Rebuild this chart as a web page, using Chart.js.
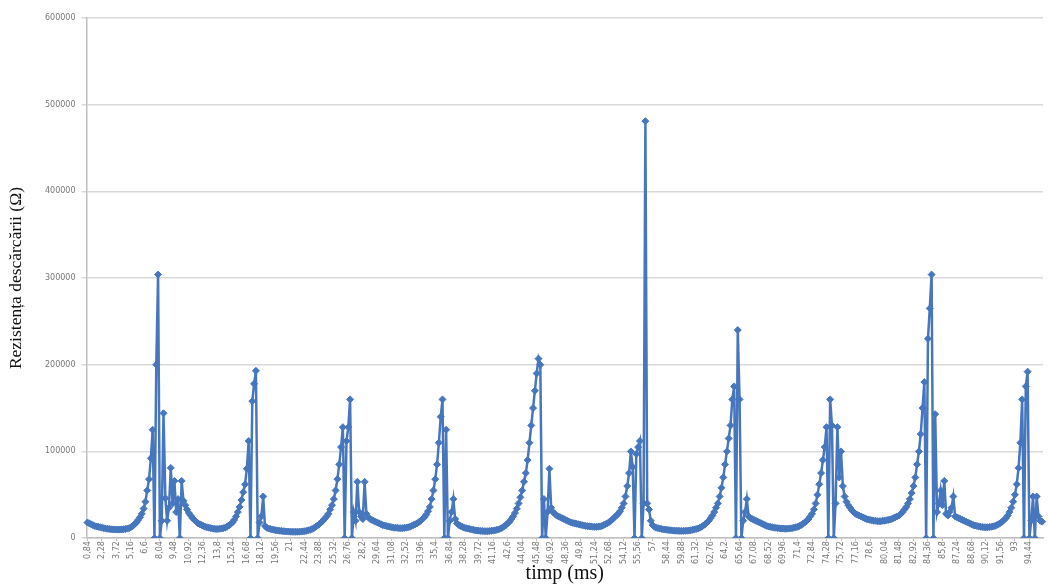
<!DOCTYPE html>
<html>
<head>
<meta charset="utf-8">
<script src="https://cdn.jsdelivr.net/npm/chart.js@4"></script>
<style>
  html, body { margin: 0; padding: 0; background: #fff; }
  #wrap { width: 1048px; height: 584px; position: relative; }
</style>
</head>
<body>
<div id="wrap"><canvas id="chart"></canvas></div>
<script>
// x tick labels (ms), one every 8 samples
const timeTicks = [
  '0,84', '2,28', '3,72', '5,16', '6,6', '8,04', '9,48', '10,92', '12,36', '13,8',
  '15,24', '16,68', '18,12', '19,56', '21', '22,44', '23,88', '25,32', '26,76', '28,2',
  '29,64', '31,08', '32,52', '33,96', '35,4', '36,84', '38,28', '39,72', '41,16', '42,6',
  '44,04', '45,48', '46,92', '48,36', '49,8', '51,24', '52,68', '54,12', '55,56', '57',
  '58,44', '59,88', '61,32', '62,76', '64,2', '65,64', '67,08', '68,52', '69,96', '71,4',
  '72,84', '74,28', '75,72', '77,16', '78,6', '80,04', '81,48', '82,92', '84,36', '85,8',
  '87,24', '88,68', '90,12', '91,56', '93', '94,44'
];

// discharge resistance (ohm), one value per sample
const resistance = [
  18000, 17000, 16000, 15000, 14000, 13500, 13000, 12500, 12000, 11500,
  11000, 10800, 10500, 10200, 10000, 10000, 9800, 9800, 9800, 10000,
  10200, 10500, 11000, 11500, 12500, 14000, 16000, 18000, 21000, 24000,
  28000, 34000, 42000, 55000, 68000, 92000, 125000, 0, 200000, 304000,
  0, 20000, 144000, 46000, 20000, 35000, 81000, 40000, 66000, 30000,
  45000, 0, 66000, 43000, 38000, 33000, 29000, 26000, 23000, 21000,
  19000, 17000, 16000, 15000, 14000, 13000, 12500, 12000, 11500, 11000,
  10800, 10500, 10500, 10800, 11000, 11500, 12000, 13000, 14500, 16000,
  18000, 21000, 25000, 30000, 36000, 44000, 53000, 62000, 80000, 112000,
  0, 158000, 178000, 193000, 0, 18000, 25000, 48000, 14000, 12000,
  11000, 10500, 10000, 9500, 9000, 8800, 8500, 8300, 8000, 7800,
  7600, 7500, 7400, 7300, 7200, 7200, 7300, 7400, 7500, 7800,
  8000, 8500, 9000, 9500, 10500, 11500, 13000, 14500, 16000, 18000,
  20000, 22500, 25000, 28000, 33000, 38000, 45000, 55000, 68000, 85000,
  105000, 128000, 0, 112000, 128000, 160000, 0, 30000, 20000, 65000,
  30000, 25000, 22000, 65000, 28000, 24000, 22000, 21000, 20000, 19000,
  18000, 17000, 16000, 15000, 14500, 14000, 13500, 13000, 12500, 12000,
  12000, 11800, 11500, 11500, 11500, 11800, 12000, 12500, 13000, 14000,
  15000, 16000, 17000, 18500, 20000, 22000, 24000, 27000, 31000, 36000,
  45000, 55000, 68000, 85000, 110000, 140000, 160000, 0, 125000, 0,
  20000, 30000, 45000, 22000, 17000, 15000, 14000, 13000, 12000, 11500,
  11000, 10500, 10000, 9500, 9000, 8800, 8500, 8300, 8200, 8000,
  8000, 8000, 8200, 8400, 8700, 9000, 9500, 10000, 11000, 12000,
  13500, 15000, 17000, 19000, 22000, 25000, 29000, 34000, 40000, 47000,
  55000, 65000, 75000, 90000, 110000, 130000, 150000, 170000, 190000, 207000,
  200000, 0, 45000, 0, 30000, 80000, 35000, 30000, 28000, 26000,
  25000, 24000, 23000, 22000, 21000, 20000, 19000, 18000, 17500, 17000,
  16500, 16000, 15500, 15000, 14500, 14000, 13800, 13500, 13300, 13000,
  13000, 13000, 13200, 13500, 14000, 15000, 16000, 17000, 18500, 20000,
  22000, 24000, 26000, 28000, 31000, 35000, 40000, 48000, 60000, 75000,
  100000, 82000, 0, 97000, 105000, 112000, 0, 40000, 481000, 40000,
  33000, 20000, 15000, 13000, 12000, 11500, 11000, 10500, 10000, 9800,
  9500, 9200, 9000, 8800, 8600, 8500, 8400, 8300, 8300, 8300,
  8400, 8500, 8700, 9000, 9500, 10000, 10500, 11000, 12000, 13000,
  14500, 16000, 18000, 20000, 23000, 26000, 30000, 35000, 40000, 48000,
  58000, 70000, 85000, 100000, 115000, 130000, 160000, 175000, 0, 240000,
  160000, 0, 20000, 30000, 45000, 25000, 23000, 22000, 21000, 20000,
  19000, 18000, 17000, 16000, 15000, 14000, 13500, 13000, 12500, 12000,
  11800, 11500, 11300, 11000, 11000, 10800, 10800, 11000, 11200, 11500,
  12000, 12500, 13000, 14000, 15000, 16500, 18000, 20000, 22000, 25000,
  28000, 33000, 40000, 50000, 62000, 75000, 90000, 105000, 128000, 0,
  160000, 130000, 0, 40000, 128000, 70000, 100000, 60000, 48000, 42000,
  38000, 35000, 32000, 30000, 28000, 27000, 26000, 25000, 24000, 23000,
  22000, 21500, 21000, 20500, 20000, 20000, 19500, 19500, 19500, 20000,
  20000, 20500, 21000, 21500, 22000, 23000, 24000, 25000, 26000, 28000,
  30000, 33000, 36000, 40000, 45000, 52000, 60000, 70000, 85000, 100000,
  120000, 150000, 180000, 0, 230000, 265000, 304000, 0, 143000, 30000,
  40000, 55000, 38000, 66000, 28000, 26000, 30000, 35000, 48000, 25000,
  24000, 23000, 22000, 21000, 20000, 19000, 18000, 17000, 16000, 15000,
  14500, 14000, 13500, 13000, 12800, 12500, 12500, 12500, 12800, 13000,
  13500, 14000, 15000, 16000, 17500, 19000, 21000, 23000, 26000, 30000,
  35000, 42000, 50000, 62000, 81000, 110000, 160000, 0, 175000, 192000,
  0, 20000, 48000, 0, 48000, 25000, 20000, 19000
];

const samplesPerTick = 8;
const blue = '#4677be';

// category labels: only every 8th sample carries a visible time label
const labels = resistance.map((_, i) => i % samplesPerTick === 0 ? timeTicks[i / samplesPerTick] : '');

const ctx = document.getElementById('chart');
new Chart(ctx, {
  type: 'line',
  data: {
    labels,
    datasets: [{
      data: resistance,
      borderColor: blue,
      backgroundColor: blue,
      borderWidth: 2.5,
      pointStyle: 'rectRot',
      pointRadius: 3.5,
      pointBorderWidth: 1,
      tension: 0
    }]
  },
  options: {
    responsive: true,
    maintainAspectRatio: false,
    animation: false,
    layout: { padding: { top: 18, right: 2, left: 6, bottom: 0 } },
    plugins: { legend: { display: false }, tooltip: { enabled: false } },
    scales: {
      x: {
        offset: true,
        // plot runs right up to the edge, like the original
        afterFit: scale => { scale.paddingRight = 0; },
        grid: {
          drawOnChartArea: false,
          tickLength: 3,
          color: c => c.index % samplesPerTick === 0 ? '#bfbfbf' : 'rgba(0,0,0,0)'
        },
        border: { color: '#bfbfbf', width: 1.5 },
        ticks: {
          autoSkip: false,
          minRotation: 90,
          maxRotation: 90,
          padding: 0,
          color: '#777',
          font: { family: 'DejaVu Sans', size: 8 }
        },
        title: {
          display: true,
          text: 'timp (ms)',
          color: '#111',
          font: { family: 'Liberation Serif', size: 20, lineHeight: 1 },
          padding: { top: 0, bottom: 0 }
        }
      },
      y: {
        min: 0,
        max: 600000,
        grid: { color: '#d9d9d9', tickLength: 5, lineWidth: 1.5 },
        border: { color: '#bfbfbf', width: 1.5 },
        ticks: {
          stepSize: 100000,
          padding: 6,
          color: '#777',
          font: { family: 'DejaVu Sans', size: 8 },
          callback: v => String(v)
        },
        title: {
          display: true,
          text: 'Rezistența descărcării (Ω)',
          color: '#111',
          font: { family: 'Liberation Serif', size: 17.5 },
          padding: { top: 0, bottom: 12 }
        }
      }
    }
  }
});
</script>
</body>
</html>
